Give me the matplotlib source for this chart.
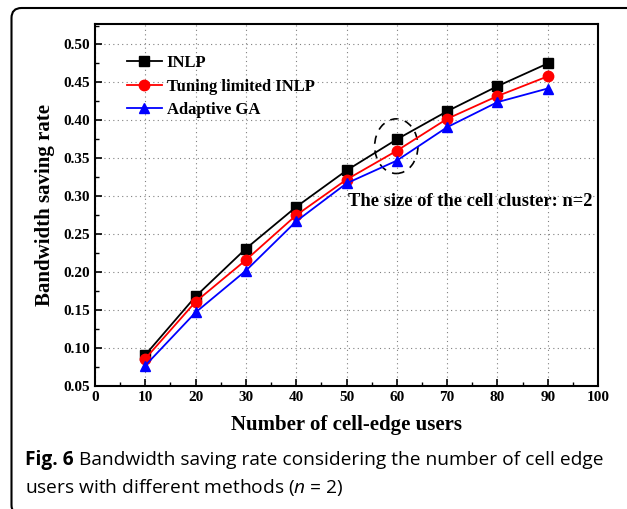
import matplotlib.pyplot as plt
from matplotlib.patches import Ellipse, FancyBboxPatch
from matplotlib.ticker import MultipleLocator, FormatStrFormatter
from matplotlib.transforms import IdentityTransform

# data
users = [10, 20, 30, 40, 50, 60, 70, 80, 90]
inlp = [0.091, 0.168, 0.231, 0.286, 0.334, 0.375, 0.412, 0.445, 0.475]
tuning = [0.086, 0.161, 0.216, 0.275, 0.322, 0.360, 0.402, 0.432, 0.458]
ga = [0.077, 0.147, 0.202, 0.267, 0.317, 0.347, 0.391, 0.424, 0.442]

serif = ["Liberation Serif", "DejaVu Serif"]
plt.rcParams["font.family"] = serif
plt.rcParams["font.weight"] = "bold"
plt.rcParams["mathtext.fontset"] = "custom"
plt.rcParams["mathtext.rm"] = "Open Sans:weight=normal"
plt.rcParams["mathtext.it"] = "Open Sans:style=italic:weight=normal"

fig = plt.figure(figsize=(6.27, 5.09), dpi=100)
ax = fig.add_axes([95 / 627, 1 - 386 / 509, 503 / 627, 362 / 509])

ax.plot(users, inlp, "-s", color="black", lw=1.3, ms=6.5, label="INLP")
ax.plot(users, tuning, "-o", color="red", lw=1.3, ms=7.5, label="Tuning limited INLP")
ax.plot(users, ga, "-^", color="blue", lw=1.3, ms=7.5, label="Adaptive GA")

ax.set_xlim(0, 100)
ax.xaxis.set_major_locator(MultipleLocator(10))
ax.xaxis.set_minor_locator(MultipleLocator(5))
ax.yaxis.set_major_locator(MultipleLocator(0.05))
ax.yaxis.set_minor_locator(MultipleLocator(0.025))
ax.yaxis.set_major_formatter(FormatStrFormatter("%.2f"))
ax.set_ylim(0.05, 0.527)

ax.grid(True, which="major", linestyle=(0, (1, 3)), color="gray", lw=0.8)
ax.tick_params(which="both", direction="in", top=False, right=False, labelsize=11)
ax.tick_params(which="major", length=5, width=1.2)
ax.tick_params(which="minor", length=3, width=1.0)
for s in ax.spines.values():
    s.set_linewidth(1.5)

ax.set_xlabel("Number of cell-edge users", fontweight="bold", fontsize=15, labelpad=8)
ax.set_ylabel("Bandwidth saving rate", fontweight="bold", fontsize=15, labelpad=6)

leg = ax.legend(loc="upper left", bbox_to_anchor=(0.033, 0.955), frameon=False,
                prop={"family": serif, "weight": "bold", "size": 12},
                handlelength=2.1, labelspacing=0.45, handletextpad=0.3)

ell = Ellipse((59.9, 0.366), 8.6, 0.072, fill=False, ls=(0, (5, 4)), lw=1.2, color="black")
ax.add_patch(ell)
ax.text(50.2, 0.293, "The size of the cell cluster: n=2",
        fontweight="bold", fontsize=13.3, va="center")

# caption
cap1 = fig.text(25 / 627, 1 - 460 / 509, "Fig. 6", family="Open Sans",
                fontweight="bold", fontsize=13.8, va="center")
fig.canvas.draw()
bb = cap1.get_window_extent()
fig.text((bb.x1 + 5) / 627, 1 - 460 / 509,
         "Bandwidth saving rate considering the number of cell edge",
         family="Open Sans", fontweight="normal", fontsize=13.8, va="center")
fig.text(25 / 627, 1 - 488 / 509, r"users with different methods ($n$ = 2)",
         family="Open Sans", fontweight="normal", fontsize=13.8, va="center")

# rounded frame (pixel coords)
frame = FancyBboxPatch((11.5, -6), 640, 509 - 8 + 6,
                       boxstyle="round,pad=0,rounding_size=10",
                       transform=IdentityTransform(), fill=False, lw=1.5,
                       edgecolor="black", clip_on=False)
fig.patches.append(frame)

fig.savefig("out.png", dpi=100)
